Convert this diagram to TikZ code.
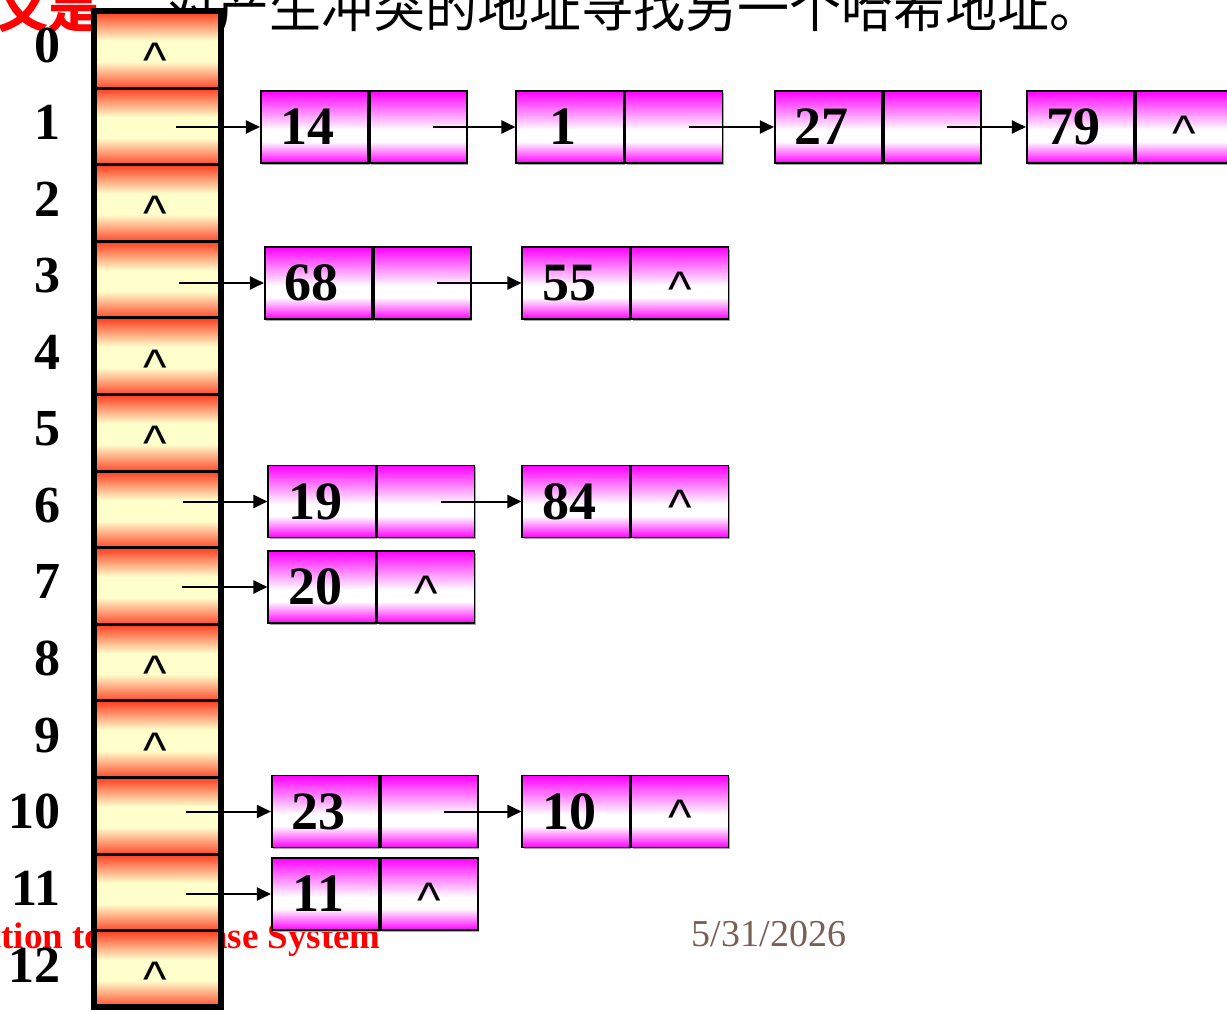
\documentclass[tikz,border=0pt]{standalone}
\usepackage{fontspec}
\setmainfont{Liberation Serif}
\newfontfamily\cjkfont{Noto Sans CJK SC}
\newfontfamily\caretfont{Liberation Sans}
\usetikzlibrary{arrows.meta,shadows}
\definecolor{cellred}{RGB}{255,60,30}
\definecolor{cellredlow}{RGB}{255,75,45}
\definecolor{cellcream}{RGB}{255,255,204}
\definecolor{recmag}{RGB}{255,0,255}
\definecolor{datebrown}{RGB}{120,96,86}
% TikZ fits the 25bp..75bp band of a shading to the filled shape
% slot fill: red rims fading into a cream band
\pgfdeclareverticalshading{slotshade}{100bp}{color(0bp)=(cellredlow); color(25bp)=(cellredlow); color(42.5bp)=(cellcream); color(56bp)=(cellcream); color(75bp)=(cellred); color(100bp)=(cellred)}
% record fill: magenta rims with a white band just below the middle
\pgfdeclareverticalshading{recshade}{100bp}{color(0bp)=(recmag); color(25bp)=(recmag); color(40bp)=(white); color(48bp)=(white); color(75bp)=(recmag); color(100bp)=(recmag)}
\begin{document}
\begin{tikzpicture}[x=1pt,y=-1pt,
  hashcell/.style={rectangle, draw=black, line width=3pt, outer sep=0pt,
    minimum width=127pt, minimum height=76.6pt, inner sep=0pt,
    shade, shading=slotshade},
  idx/.style={font=\bfseries\fontsize{52}{60}\selectfont, inner sep=0pt, anchor=east},
  field/.style={rectangle, draw=black, line width=1.6pt, minimum height=72pt,
    inner sep=0pt, shade, shading=recshade,
    general shadow={fill=black!35, shadow xshift=1.5pt, shadow yshift=-1.5pt}},
  datafield/.style={field, minimum width=107.5pt},
  ptrfield/.style={field, minimum width=97pt, anchor=west},
  num/.style={font=\bfseries\fontsize{54}{60}\selectfont, inner sep=0pt},
  nil/.style={font=\caretfont\fontsize{50}{60}\selectfont, inner sep=0pt, anchor=base},
  link/.style={line width=2pt, -{Triangle[length=14pt,width=13pt]}}
]
\useasboundingbox (0,0) rectangle (1227,1012);
\clip (0,0) rectangle (1227,1012);

% heading line, footer and date
\node[anchor=base east, inner sep=0pt, text=red,
  font=\cjkfont\bfseries\fontsize{51}{60}\selectfont] (headred) at (100,27) {义是};
\node[anchor=base west, inner sep=0pt,
  font=\cjkfont\fontsize{52}{60}\selectfont] (head) at (165,27)
  {对产生冲突的地址寻找另一个哈希地址。};
\node[anchor=base east, inner sep=0pt, text=red,
  font=\bfseries\fontsize{37}{44}\selectfont] (foot) at (381,948)
  {An Introduction to Database System};
\node[inner sep=0pt, text=datebrown, font=\fontsize{38}{44}\selectfont] (date)
  at (769,934) {5/31/2026};

% hash table column with its indices
\foreach \k in {0,...,12} {
  \node[hashcell] (h\k) at (157.5,{49.7+76.6*\k}) {};
  \node[idx] (l\k) at (61,{45.7+76.6*\k}) {\k};
}
\draw[line width=6pt] (h0.north west) rectangle (h12.south east);
\foreach \k in {0,2,4,5,8,9,12}
  \node[nil] (n\k) at ([xshift=-2.5pt,yshift=-28pt]h\k.center) {\textasciicircum};

% chain of slot 1
\node[datafield] (d14) at (314.5,127) {};
\node[ptrfield] (p14) at (d14.east) {};
\node[datafield] (d1) at (570,127) {};
\node[ptrfield] (p1) at (d1.east) {};
\node[datafield] (d27) at (828.5,127) {};
\node[ptrfield] (p27) at (d27.east) {};
\node[datafield] (d79) at (1080.5,127) {};
\node[ptrfield] (p79) at (d79.east) {};
% chain of slot 3
\node[datafield] (d68) at (318.5,283) {};
\node[ptrfield] (p68) at (d68.east) {};
\node[datafield] (d55) at (576,283) {};
\node[ptrfield] (p55) at (d55.east) {};
% chain of slot 6
\node[datafield] (d19) at (322,501.5) {};
\node[ptrfield] (p19) at (d19.east) {};
\node[datafield] (d84) at (576,501.5) {};
\node[ptrfield] (p84) at (d84.east) {};
% chain of slot 7
\node[datafield] (d20) at (322,587) {};
\node[ptrfield] (p20) at (d20.east) {};
% chain of slot 10
\node[datafield] (d23) at (325.5,811.5) {};
\node[ptrfield] (p23) at (d23.east) {};
\node[datafield] (d10) at (576,811.5) {};
\node[ptrfield] (p10) at (d10.east) {};
% chain of slot 11
\node[datafield] (d11) at (325.5,894) {};
\node[ptrfield] (p11) at (d11.east) {};

% keys
\foreach \v in {14,1,27,79,68,55,19,84,20,23,10,11}
  \node[num] (t\v) at ([xshift=-7pt]d\v.center) {\v};

% null pointers
\foreach \v in {79,55,84,20,10,11}
  \node[nil] (z\v) at ([yshift=-23pt]p\v.center) {\textasciicircum};

% pointers out of the table slots
\coordinate (s1) at (176,127);
\coordinate (s3) at (179,283);
\coordinate (s6) at (183,501.5);
\coordinate (s7) at (182,587);
\coordinate (s10) at (186,811.5);
\coordinate (s11) at (186,894);
\draw[link] (s1) -- (d14);
\draw[link] (s3) -- (d68);
\draw[link] (s6) -- (d19);
\draw[link] (s7) -- (d20);
\draw[link] (s10) -- (d23);
\draw[link] (s11) -- (d11);

% pointers between chain records
\draw[link] ([xshift=15pt]p14.center) -- (d1);
\draw[link] ([xshift=15pt]p1.center) -- (d27);
\draw[link] ([xshift=15pt]p27.center) -- (d79);
\draw[link] ([xshift=15pt]p68.center) -- (d55);
\draw[link] ([xshift=15pt]p19.center) -- (d84);
\draw[link] ([xshift=15pt]p23.center) -- (d10);
\end{tikzpicture}
\end{document}
